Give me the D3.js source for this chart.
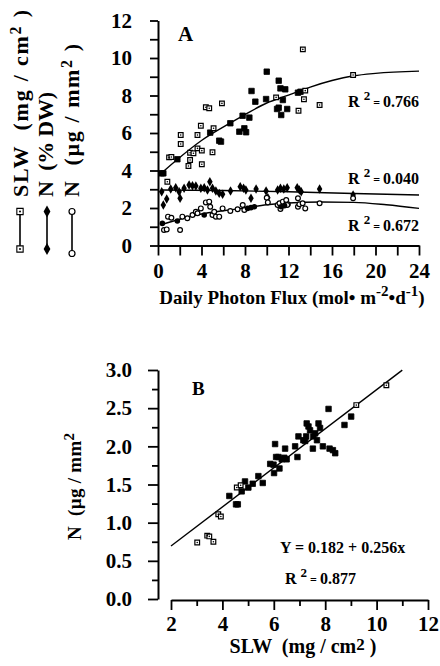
<!DOCTYPE html>
<html>
<head>
<meta charset="utf-8">
<script src="https://cdn.jsdelivr.net/npm/d3@7"></script>
<style>
  body { margin: 0; background: #fff; }
  svg { display: block; font-family: "Liberation Serif", "Times New Roman", serif; font-weight: bold; }
</style>
</head>
<body>
<div id="chart"></div>
<script>
// Panel A: daily photon flux vs SLW / N
const slwOpen = [[0.86,3.4],[1.02,4.7],[1.23,4.72],[2.09,5.89],[2.09,5.41],[2.8,4.24],[2.95,4.95],[2.95,4.56],
  [3.26,4.92],[3.63,5.18],[3.63,5.89],[3.94,6.39],[4.03,5.06],[4.03,4.33],[4.4,7.37],[4.71,7.32],[5.01,4.97],
  [5.11,6.25],[5.88,7.58],[10.86,7.9],[12.92,7.19],[13.32,10.46],[13.54,8.26],[13.42,7.8],[14.86,7.49],[17.94,9.09]];
const slwFilled = [[0.34,3.85],[0.49,3.85],[1.78,4.6],[4.8,6.02],[5.63,5.59],[5.79,5.54],[6.65,6.52],[7.48,6.07],
  [7.94,6.25],[8.1,6.04],[7.78,6.92],[8.4,6.82],[8.6,8.24],[8.95,7.67],[10.0,9.27],[9.94,7.81],[11.1,8.79],
  [11.26,8.38],[11.7,8.33],[11.48,7.76],[10.95,7.28],[11.1,7.35],[11.33,6.96],[11.88,7.28],[12.87,8.15],[13.1,8.2]];
const nDw = [[0.34,2.87],[0.8,2.48],[0.49,2.16],[1.17,3.01],[1.63,3.08],[1.94,2.87],[2.03,2.52],[2.4,3.05],
  [2.86,3.23],[3.17,3.19],[3.48,3.17],[3.94,3.05],[4.25,3.08],[4.55,2.96],[4.77,3.4],[5.01,3.05],[5.32,2.91],
  [5.63,2.78],[5.94,2.73],[6.67,2.91],[7.56,3.14],[7.87,3.05],[8.08,2.96],[8.55,2.52],[9.02,3.01],[9.94,2.91],
  [10.1,2.55],[11.0,2.96],[11.26,3.05],[11.57,3.01],[11.88,3.08],[12.8,3.08],[13.0,2.96],[13.17,2.87],
  [14.86,3.01],[17.94,2.69]];
const nArea = [[0.55,0.83],[0.8,0.86],[0.92,1.54],[1.23,1.48],[2.03,0.83],[2.24,1.54],[2.7,1.45],[3.17,1.63],
  [3.48,1.8],[3.63,1.72],[3.94,1.98],[4.4,2.3],[4.71,2.34],[4.8,2.07],[5.01,1.63],[5.32,1.54],[5.63,1.54],
  [5.17,1.8],[5.94,1.98],[6.65,1.84],[7.32,1.93],[7.79,2.16],[7.94,1.89],[10.0,2.55],[10.1,2.3],[11.0,2.16],
  [11.17,2.25],[11.48,2.34],[11.79,2.2],[11.26,1.95],[11.94,2.2],[11.79,2.43],[11.88,2.16],[12.87,2.52],
  [12.87,2.07],[13.0,2.2],[13.3,2.25],[13.54,1.98],[14.86,2.25],[17.94,2.52]];
const nAreaFilled = [[0.4,1.18],[1.78,1.31],[4.25,1.63],[8.24,1.98],[8.55,2.02],[8.86,2.07],[11.33,2.07],[11.64,2.12]];

// fitted curves
const slwFit = [[0.3,3.85],[1.8,4.6],[4,5.6],[6.7,6.55],[8,6.98],[10,7.6],[12,8.02],[14,8.45],[16,8.8],[18,9.05],[20,9.18],[24,9.3]];
const nDwFit = [[0.3,2.96],[6,2.93],[12,2.87],[18,2.77],[24,2.69]];
const nAreaFit = [[0.25,1.1],[2,1.4],[4,1.68],[6,1.85],[8,2.0],[10,2.17],[12,2.27],[15,2.32],[18,2.3],[21,2.17],[24,1.98]];
const fitLabelsA = [["0.766", 9.3], ["0.040", 3.3], ["0.672", 0.8]];

// Panel B: SLW vs N
const bFilled = [[4.27,1.35],[4.53,1.24],[4.6,1.24],[4.75,1.41],[4.88,1.54],[5.01,1.46],[5.18,1.51],[5.4,1.61],
  [5.57,1.52],[5.86,1.77],[5.99,1.76],[6.01,1.65],[6.05,2.03],[6.09,1.86],[6.18,1.86],[6.22,1.71],[6.31,1.83],
  [6.41,1.85],[6.5,1.83],[6.44,1.97],[6.83,2.0],[6.92,1.86],[6.96,2.13],[7.15,2.08],[7.26,2.13],[7.22,2.07],
  [7.28,2.3],[7.35,2.26],[7.41,2.21],[7.52,1.97],[7.54,2.13],[7.61,2.17],[7.74,2.3],[7.8,2.24],[7.68,2.08],
  [7.91,2.0],[8.13,2.49],[8.17,1.97],[8.3,1.95],[8.39,1.91],[8.75,2.28],[9.01,2.39]];
const bOpen = [[3.02,0.74],[3.41,0.83],[3.49,0.82],[3.65,0.75],[3.84,1.11],[3.94,1.08],[4.56,1.46],[4.71,1.49],[9.21,2.54],[10.38,2.8]];
const bIntercept = 0.182, bSlope = 0.256;
const bFitRange = [2, 11];

const xTicksA = d3.range(0, 25, 2);
const yTicksA = d3.range(0, 13, 1);
const xTicksB = d3.range(2, 13, 1);
const yTicksB = d3.range(0, 3.01, 0.25);

const svg = d3.select('#chart').append('svg')
  .attr('width', 440)
  .attr('height', 666);

function styleAxis(g, size) {
  g.attr('font-family', null).attr('font-size', size);
  g.select('.domain').attr('stroke-width', 2);
  g.selectAll('.tick line').attr('stroke-width', 1.8);
}

// superscript helper
function supText(sel, parts) {
  parts.forEach(p => {
    const t = sel.append('tspan').text(p.t);
    if (p.fs) t.attr('font-size', p.fs);
    if (p.dy) t.attr('dy', p.dy);
  });
  return sel;
}

/* ---------- Panel A ---------- */
const xA = d3.scaleLinear().domain([0, 24]).range([158, 419]);
const yA = d3.scaleLinear().domain([0, 12]).range([245.5, 20.5]);

svg.append('g')
  .attr('transform', `translate(0,${yA(0)})`)
  .call(d3.axisBottom(xA).tickValues(xTicksA).tickSize(10).tickSizeOuter(0).tickPadding(8)
    .tickFormat(d => d % 4 === 0 ? d : ''))
  .call(g => styleAxis(g, 21));

svg.append('g')
  .attr('transform', `translate(${xA(0)},0)`)
  .call(d3.axisLeft(yA).tickValues(yTicksA).tickSize(8).tickSizeOuter(0).tickPadding(18)
    .tickFormat(d => d % 2 === 0 ? d : ''))
  .call(g => styleAxis(g, 21));

const lineA = d3.line().x(d => xA(d[0])).y(d => yA(d[1])).curve(d3.curveMonotoneX);
[slwFit, nDwFit, nAreaFit].forEach(c => {
  svg.append('path').datum(c)
    .attr('fill', 'none').attr('stroke', '#000').attr('stroke-width', 1.4)
    .attr('d', lineA);
});

const sq = d3.symbol().type(d3.symbolSquare);
const dia = d3.symbol().type(d3.symbolDiamond);

function openSquares(data, x, y, size) {
  const g = svg.append('g');
  g.selectAll('path').data(data).join('path')
    .attr('transform', d => `translate(${x(d[0])},${y(d[1])})`)
    .attr('d', sq.size(size)())
    .attr('fill', '#fff').attr('stroke', '#000').attr('stroke-width', 1.2);
  g.selectAll('circle').data(data).join('circle')
    .attr('cx', d => x(d[0])).attr('cy', d => y(d[1])).attr('r', 0.8).attr('fill', '#000');
}

function filledSquares(data, x, y, size) {
  svg.append('g').selectAll('path').data(data).join('path')
    .attr('transform', d => `translate(${x(d[0])},${y(d[1])})`)
    .attr('d', sq.size(size)())
    .attr('fill', '#000').attr('stroke', '#000').attr('stroke-width', 0.8).attr('stroke-linejoin', 'round');
}

filledSquares(slwFilled, xA, yA, 30);
openSquares(slwOpen, xA, yA, 22);

svg.append('g').selectAll('path').data(nDw).join('path')
  .attr('transform', d => `translate(${xA(d[0])},${yA(d[1])})`)
  .attr('d', dia.size(26)())
  .attr('fill', '#000');

svg.append('g').selectAll('circle').data(nArea).join('circle')
  .attr('cx', d => xA(d[0])).attr('cy', d => yA(d[1])).attr('r', 2.4)
  .attr('fill', '#fff').attr('stroke', '#000').attr('stroke-width', 1.2);

svg.append('g').selectAll('circle').data(nAreaFilled).join('circle')
  .attr('cx', d => xA(d[0])).attr('cy', d => yA(d[1])).attr('r', 2.8)
  .attr('fill', '#000');

svg.append('text').attr('x', 178).attr('y', 40.5).attr('font-size', 21).text('A');

// R² labels, right aligned at end of curves
const rLabelY = [106.7, 183.5, 230.5];
fitLabelsA.forEach((f, i) => {
  const t = svg.append('text').attr('x', 419).attr('y', rLabelY[i]).attr('text-anchor', 'end').attr('font-size', 16);
  supText(t, [{ t: 'R ' }, { t: '2', fs: 13, dy: -7 }, { t: ' = ', fs: 12, dy: 7 }, { t: f[0] }]);
});

// x title A
const xtA = svg.append('text').attr('x', 292).attr('y', 304).attr('text-anchor', 'middle').attr('font-size', 19);
supText(xtA, [{ t: 'Daily Photon Flux (mol\u2022 m' }, { t: '-2', fs: 15, dy: -8 }, { t: '\u2022d', dy: 8 },
  { t: '-1', fs: 15, dy: -8 }, { t: ')', dy: 8 }]);

// rotated legend / y titles for A
const legendCols = [
  { x: 28, len: 187, parts: [{ t: 'SLW  (mg / cm' }, { t: '2', fs: 16, dy: -7 }, { t: ' )', dy: 7 }], sym: 'square', sx: 20 },
  { x: 53, len: 105, parts: [{ t: 'N  (% DW)' }], sym: 'diamond', sx: 47 },
  { x: 79, len: 153, parts: [{ t: 'N  (\u00b5g / mm' }, { t: '2', fs: 16, dy: -7 }, { t: ' )', dy: 7 }], sym: 'circle', sx: 72 }
];
legendCols.forEach(c => {
  const t = svg.append('text')
    .attr('transform', `translate(${c.x},197) rotate(-90)`)
    .attr('font-size', 22)
    .attr('textLength', c.len)
    .attr('lengthAdjust', 'spacing')
    .style('white-space', 'pre');
  supText(t, c.parts);
  const g = svg.append('g');
  const y1 = 211.5, y2 = c.sym === 'circle' ? 253.5 : 249;
  g.append('line').attr('x1', c.sx).attr('x2', c.sx).attr('y1', y1).attr('y2', y2)
    .attr('stroke', '#000').attr('stroke-width', 1.6);
  [y1, y2].forEach(y => {
    if (c.sym === 'square') {
      g.append('path').attr('transform', `translate(${c.sx},${y})`).attr('d', sq.size(40)())
        .attr('fill', '#fff').attr('stroke', '#000').attr('stroke-width', 1.1);
      g.append('circle').attr('cx', c.sx).attr('cy', y).attr('r', 1).attr('fill', '#000');
    } else if (c.sym === 'diamond') {
      g.append('path').attr('transform', `translate(${c.sx},${y})`).attr('d', dia.size(40)()).attr('fill', '#000');
    } else {
      g.append('circle').attr('cx', c.sx).attr('cy', y).attr('r', 3)
        .attr('fill', '#fff').attr('stroke', '#000').attr('stroke-width', 1.2);
    }
  });
});

/* ---------- Panel B ---------- */
const xB = d3.scaleLinear().domain([2, 12]).range([171, 428]);
const yB = d3.scaleLinear().domain([0, 3]).range([599, 370]);

svg.append('g')
  .attr('transform', 'translate(0,600)')
  .call(d3.axisBottom(xB).tickValues(xTicksB.filter(d => d % 2 === 0)).tickSize(10).tickSizeOuter(0).tickPadding(6))
  .call(g => styleAxis(g, 21));
svg.append('g')
  .attr('transform', 'translate(0,600)')
  .call(d3.axisBottom(xB).tickValues(xTicksB.filter(d => d % 2 === 1)).tickSize(6).tickFormat(''))
  .call(g => { g.select('.domain').remove(); g.selectAll('.tick line').attr('stroke-width', 1.8); });

svg.append('g')
  .attr('transform', 'translate(158,0)')
  .call(d3.axisLeft(yB).tickValues(yTicksB.filter((d, i) => i % 2 === 0)).tickSize(10).tickSizeOuter(0)
    .tickPadding(16).tickFormat(d3.format('.1f')))
  .call(g => styleAxis(g, 21));
svg.append('g')
  .attr('transform', 'translate(158,0)')
  .call(d3.axisLeft(yB).tickValues(yTicksB.filter((d, i) => i % 2 === 1)).tickSize(6).tickFormat(''))
  .call(g => { g.select('.domain').remove(); g.selectAll('.tick line').attr('stroke-width', 1.8); });

svg.append('path')
  .datum(bFitRange.map(x => [x, bIntercept + bSlope * x]))
  .attr('fill', 'none').attr('stroke', '#000').attr('stroke-width', 1.4)
  .attr('d', d3.line().x(d => xB(d[0])).y(d => yB(d[1])));

filledSquares(bFilled, xB, yB, 30);
openSquares(bOpen, xB, yB, 22);

svg.append('text').attr('x', 192).attr('y', 395).attr('font-size', 19).text('B');

svg.append('text').attr('x', 280).attr('y', 553).attr('font-size', 16)
  .text(`Y = ${bIntercept} + ${bSlope}x`);
const rB = svg.append('text').attr('x', 285).attr('y', 583.5).attr('font-size', 16);
supText(rB, [{ t: 'R ' }, { t: '2', fs: 13, dy: -7 }, { t: ' = ', fs: 12, dy: 7 }, { t: '0.877' }]);

const xtB = svg.append('text').attr('x', 303).attr('y', 653).attr('text-anchor', 'middle')
  .attr('font-size', 20).style('white-space', 'pre');
supText(xtB, [{ t: 'SLW  (mg / cm' }, { t: '2', fs: 17, dy: -3 }, { t: ' )', dy: 3 }]);

const ytB = svg.append('text')
  .attr('transform', 'translate(81,540) rotate(-90)')
  .attr('font-size', 19)
  .attr('textLength', 107)
  .attr('lengthAdjust', 'spacing')
  .style('white-space', 'pre');
supText(ytB, [{ t: 'N  (\u00b5g / mm' }, { t: '2', fs: 15, dy: -7 }]);
</script>
</body>
</html>
